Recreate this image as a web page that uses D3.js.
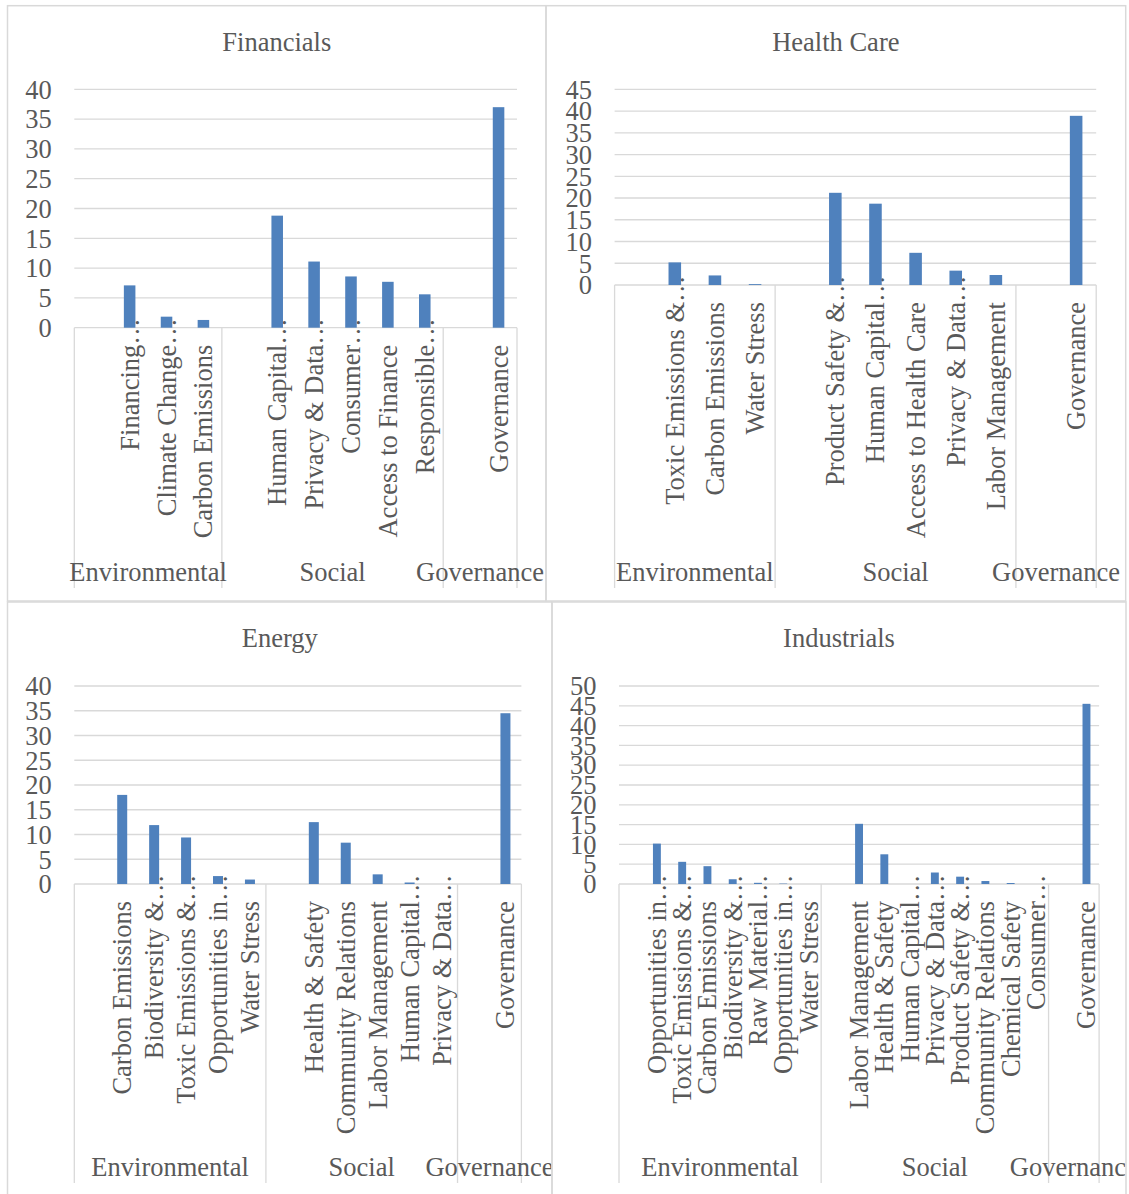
<!DOCTYPE html>
<html>
<head>
<meta charset="utf-8">
<script src="https://cdn.jsdelivr.net/npm/d3@7"></script>
<style>
  html, body { margin: 0; padding: 0; background: #ffffff; }
  svg { display: block; }
  text { font-family: "Liberation Serif", "Times New Roman", serif; fill: #595959; }
</style>
</head>
<body>
<svg id="chart" width="1129" height="1194"></svg>
<script>
// ---------------- data ----------------
// Each pillar group starts with an empty category slot (blank header row).
const groupNames = ["Environmental", "Social", "Governance"];

const financialsLabels = [
  ["", "Financing…", "Climate Change…", "Carbon Emissions"],
  ["", "Human Capital…", "Privacy & Data…", "Consumer…", "Access to Finance", "Responsible…"],
  ["", "Governance"]
];
const financialsValues = [
  [null, 7.1, 1.85, 1.3],
  [null, 18.8, 11.1, 8.6, 7.7, 5.6],
  [null, 37.0]
];
const financialsTicks = [0, 5, 10, 15, 20, 25, 30, 35, 40];

const healthCareLabels = [
  ["", "Toxic Emissions &…", "Carbon Emissions", "Water Stress"],
  ["", "Product Safety &…", "Human Capital…", "Access to Health Care", "Privacy & Data…", "Labor Management"],
  ["", "Governance"]
];
const healthCareValues = [
  [null, 5.2, 2.2, 0.2],
  [null, 21.2, 18.7, 7.4, 3.3, 2.3],
  [null, 38.9]
];
const healthCareTicks = [0, 5, 10, 15, 20, 25, 30, 35, 40, 45];

const energyLabels = [
  ["", "Carbon Emissions", "Biodiversity &…", "Toxic Emissions &…", "Opportunities in…", "Water Stress"],
  ["", "Health & Safety", "Community Relations", "Labor Management", "Human Capital…", "Privacy & Data…"],
  ["", "Governance"]
];
const energyValues = [
  [null, 18.0, 11.9, 9.4, 1.6, 0.9],
  [null, 12.5, 8.35, 1.95, 0.3, 0],
  [null, 34.5]
];
const energyTicks = [0, 5, 10, 15, 20, 25, 30, 35, 40];

const industrialsLabels = [
  ["", "Opportunities in…", "Toxic Emissions &…", "Carbon Emissions", "Biodiversity &…", "Raw Material…", "Opportunities in…", "Water Stress"],
  ["", "Labor Management", "Health & Safety", "Human Capital…", "Privacy & Data…", "Product Safety &…", "Community Relations", "Chemical Safety", "Consumer…"],
  ["", "Governance"]
];
const industrialsValues = [
  [null, 10.2, 5.6, 4.5, 1.2, 0.3, 0.1, 0],
  [null, 15.2, 7.5, 0, 2.9, 1.85, 0.75, 0.25, 0],
  [null, 45.5]
];
const industrialsTicks = [0, 5, 10, 15, 20, 25, 30, 35, 40, 45, 50];

// ---------------- layout ----------------
const panels = [
  { title: "Financials",  labels: financialsLabels,  values: financialsValues,  ticks: financialsTicks,
    box: { x0: 7.5, y0: 5.7, x1: 546, y1: 601 },   plot: { l: 74.3, r: 517, t: 89.3, b: 327.7 } },
  { title: "Health Care", labels: healthCareLabels,  values: healthCareValues,  ticks: healthCareTicks,
    box: { x0: 546, y0: 5.7, x1: 1125.7, y1: 601 }, plot: { l: 614.6, r: 1096.2, t: 89.3, b: 285 } },
  { title: "Energy",      labels: energyLabels,      values: energyValues,      ticks: energyTicks,
    box: { x0: 7.5, y0: 602, x1: 552, y1: 1196 },   plot: { l: 74.3, r: 521.4, t: 686, b: 884 } },
  { title: "Industrials", labels: industrialsLabels, values: industrialsValues, ticks: industrialsTicks,
    box: { x0: 552, y0: 602, x1: 1126, y1: 1196 },  plot: { l: 619, r: 1099.1, t: 686, b: 884 } }
];

const FONT = 26.5;
const TEXT_COLOR = "#595959";
const LINE_COLOR = "#d9d9d9";
const BAR_COLOR = "#4f81bd";
const BAR_FRACTION = 0.313; // column width relative to its category slot

const svg = d3.select("#chart");

panels.forEach((p, idx) => {
  const { x0, y0, x1, y1 } = p.box;
  const clipId = "panel-clip-" + idx;
  svg.append("clipPath").attr("id", clipId)
    .append("rect").attr("x", x0).attr("y", y0).attr("width", x1 - x0).attr("height", y1 - y0);

  const g = svg.append("g").attr("clip-path", `url(#${clipId})`);

  // flatten the two-level category axis
  const items = [];
  p.labels.forEach((grp, gi) => grp.forEach((lab, ci) => {
    items.push({ key: gi + "-" + ci, group: gi, label: lab, value: p.values[gi][ci] });
  }));

  const x = d3.scaleBand().domain(items.map(d => d.key)).range([p.plot.l, p.plot.r]).padding(0);
  const y = d3.scaleLinear().domain([0, d3.max(p.ticks)]).range([p.plot.b, p.plot.t]);
  const cx = d => x(d.key) + x.bandwidth() / 2;

  // title
  g.append("text")
    .attr("x", (x0 + x1) / 2).attr("y", y0 + 45)
    .attr("text-anchor", "middle").attr("font-size", FONT)
    .text(p.title);

  // horizontal gridlines (the 0 line doubles as the category axis)
  g.append("g").selectAll("line").data(p.ticks).join("line")
    .attr("x1", p.plot.l).attr("x2", p.plot.r)
    .attr("y1", d => y(d)).attr("y2", d => y(d))
    .attr("stroke", LINE_COLOR).attr("stroke-width", 1.3);

  // value axis labels
  const yAxis = d3.axisLeft(y).tickValues(p.ticks).tickSize(0).tickPadding(22.5).tickFormat(d3.format("d"));
  const ya = g.append("g").attr("transform", `translate(${p.plot.l},0)`).call(yAxis);
  ya.select(".domain").remove();
  ya.attr("font-family", null).attr("font-size", FONT).style("color", TEXT_COLOR);
  ya.selectAll(".tick line").remove();
  ya.selectAll("text").attr("dy", "0.33em");

  // group divider lines
  const bottomLineY = y1 - 13;
  const starts = groupNames.map((_, gi) => x(gi + "-0"));
  const bounds = starts.concat([p.plot.r]);
  g.append("g").selectAll("line").data(bounds).join("line")
    .attr("x1", d => d).attr("x2", d => d)
    .attr("y1", p.plot.b).attr("y2", bottomLineY)
    .attr("stroke", LINE_COLOR).attr("stroke-width", 1.3);

  // group labels
  g.append("g").selectAll("text").data(groupNames).join("text")
    .attr("x", (d, i) => (bounds[i] + bounds[i + 1]) / 2)
    .attr("y", y1 - 20)
    .attr("text-anchor", "middle").attr("font-size", FONT)
    .text(d => d);

  // rotated category labels; truncated names carry their ellipsis past the label end
  const labelTop = p.plot.b + 17;
  const cat = g.append("g").selectAll("g").data(items.filter(d => d.label)).join("g")
    .attr("transform", d => `translate(${cx(d)},${labelTop}) rotate(-90)`)
    .attr("font-size", FONT);
  cat.append("text")
    .attr("text-anchor", "end").attr("dy", "0.34em")
    .text(d => d.label.endsWith("…") ? d.label.slice(0, -1) : d.label);
  cat.filter(d => d.label.endsWith("…")).append("text")
    .attr("text-anchor", "start").attr("dy", "0.34em")
    .text("…");

  // columns
  const bw = x.bandwidth() * BAR_FRACTION;
  g.append("g").selectAll("rect").data(items.filter(d => d.value != null && d.value > 0)).join("rect")
    .attr("x", d => cx(d) - bw / 2)
    .attr("width", bw)
    .attr("y", d => y(d.value))
    .attr("height", d => y(0) - y(d.value))
    .attr("fill", BAR_COLOR);

  // chart border
  svg.append("rect")
    .attr("x", x0).attr("y", y0).attr("width", x1 - x0).attr("height", y1 - y0)
    .attr("fill", "none").attr("stroke", LINE_COLOR).attr("stroke-width", 1.5);
});
</script>
</body>
</html>
